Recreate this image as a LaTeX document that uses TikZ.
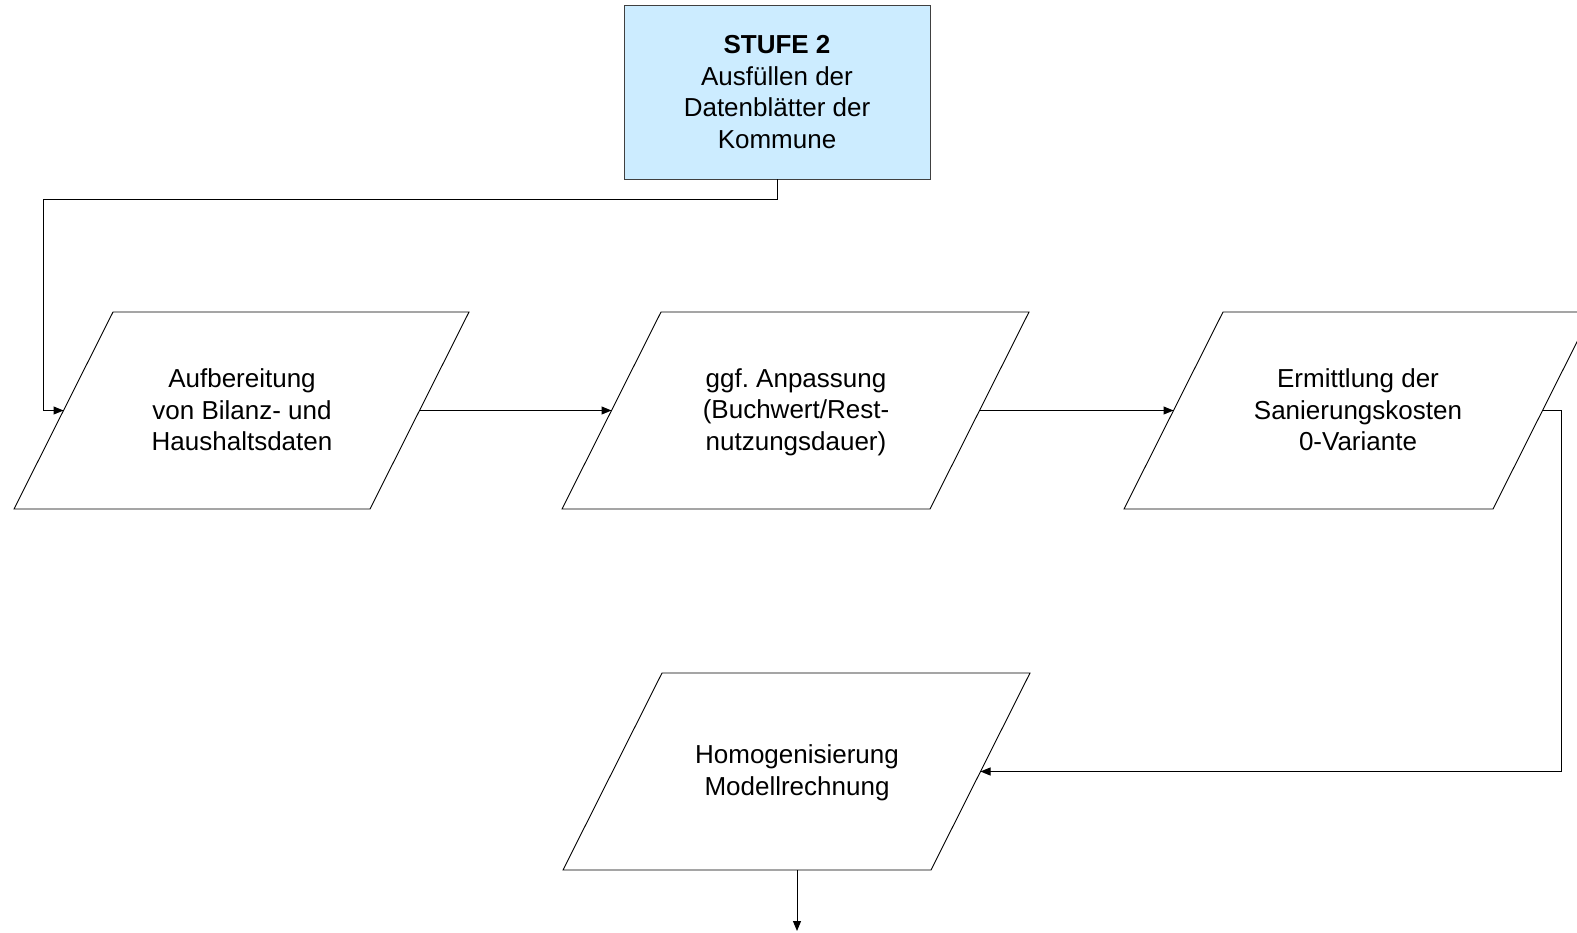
\documentclass[tikz,border=0pt]{standalone}
\usepackage{fontspec}
\setmainfont{Liberation Sans}
\usetikzlibrary{arrows.meta}
\definecolor{stufefill}{HTML}{CCECFF}
\definecolor{stufeline}{HTML}{404040}
\frenchspacing
\begin{document}
\begin{tikzpicture}[x=1pt,y=-1pt,
  txt/.style={align=center,font=\fontsize{26}{31.5}\selectfont,inner sep=0pt},
  para/.style={draw=black,line width=0.9pt,line join=miter},
  conn/.style={draw=black,line width=1pt},
  arr/.style={conn,-{Triangle[length=10pt,width=8pt]}}]
\useasboundingbox (0,0) rectangle (1577,932);
\fill[white] (0,0) rectangle (1577,932);
\clip (0,0) rectangle (1577,932);

% top box
\node[txt,draw=stufeline,fill=stufefill,line width=0.9pt,minimum width=306pt,minimum height=174pt] (top) at (777,92)
  {\textbf{STUFE 2}\\Ausfüllen der\\Datenblätter der\\Kommune};

% parallelograms
\draw[para] (113,312) -- (469,312) -- (370,509) -- (14,509) -- cycle;
\node[txt] (p1) at (242,410) {Aufbereitung\\von Bilanz- und\\Haushaltsdaten};
\draw[para] (661,312) -- (1029,312) -- (930,509) -- (562,509) -- cycle;
\node[txt] (p2) at (796,412) {ggf. Anpassung\\(Buchwert/Rest-\\nutzungsdauer)};
\draw[para] (1223,312) -- (1592,312) -- (1493,509) -- (1124,509) -- cycle;
\node[txt] (p3) at (1358,410) {Ermittlung der\\Sanierungskosten\\0-Variante};
\draw[para] (662,673) -- (1030,673) -- (931,870) -- (563,870) -- cycle;
\node[txt] (p4) at (797,773) {Homogenisierung\\Modellrechnung};

% connection points on the parallelogram sides
\coordinate (p1w) at (63.5,410.5);
\coordinate (p1e) at (419.5,410.5);
\coordinate (p2w) at (611.5,410.5);
\coordinate (p2e) at (979.5,410.5);
\coordinate (p3w) at (1173.5,410.5);
\coordinate (p3e) at (1542.5,410.5);
\coordinate (p4e) at (980.5,771.5);
\coordinate (p4s) at (797,870);
\coordinate (bend1) at (43,199);
\coordinate (bend2) at (1561,410.5);
\coordinate (out) at (797,931);

% connectors
\draw[arr] (top.south) |- (bend1) |- (p1w);
\draw[arr] (p1e) -- (p2w);
\draw[arr] (p2e) -- (p3w);
\draw[arr] (p3e) -- (bend2) |- (p4e);
\draw[arr] (p4s) -- (out);
\end{tikzpicture}
\end{document}
